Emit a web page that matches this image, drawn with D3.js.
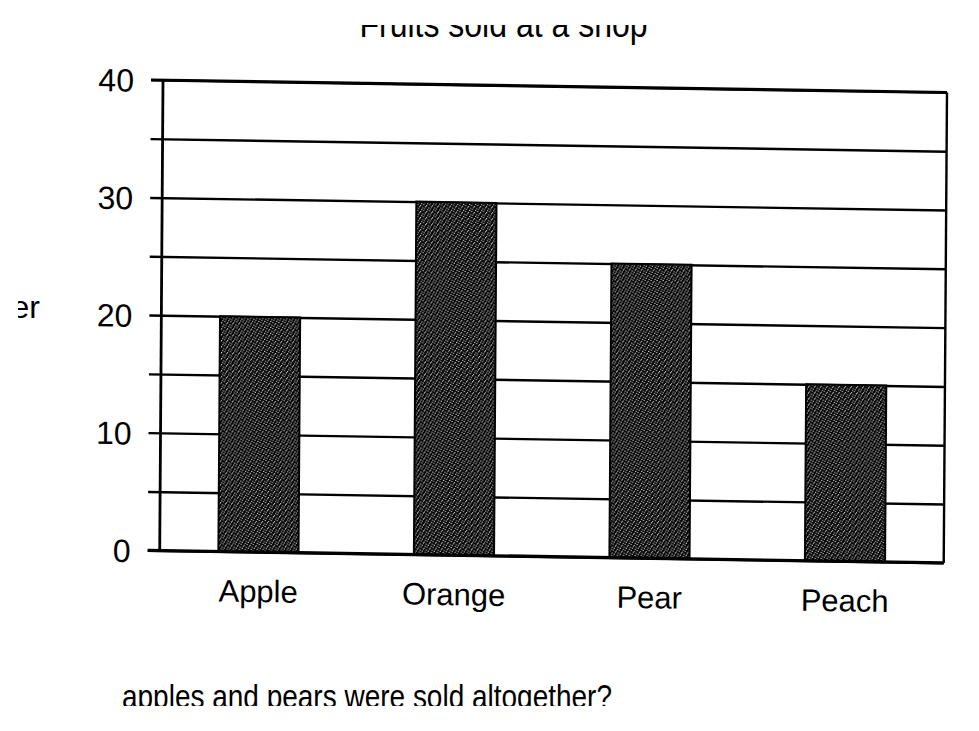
<!DOCTYPE html>
<html>
<head>
<meta charset="utf-8">
<script src="https://cdn.jsdelivr.net/npm/d3@7"></script>
<style>
  html, body { margin: 0; padding: 0; background: #fff; }
  svg { display: block; }
  text { font-family: "Liberation Sans", Arial, sans-serif; fill: #000; }
</style>
</head>
<body>
<svg id="chart" width="979" height="731"></svg>
<script>
// ---- data ----
const categories = ["Apple", "Orange", "Pear", "Peach"];
const values = [20, 30, 25, 15];
const yTickValues = [0, 5, 10, 15, 20, 25, 30, 35, 40];
const yLabelValues = [0, 10, 20, 30, 40];
const titleText = "Fruits sold at a shop";
const yTitleText = "Number";
const questionText = "apples and pears were sold altogether?";

// ---- layout ----
const W = 784, H = 470;
const svg = d3.select("#chart");
svg.append("rect").attr("width", 979).attr("height", 731).attr("fill", "#fff");

// stipple pattern for bars
const defs = svg.append("defs");
const pat = defs.append("pattern").attr("id", "stip")
  .attr("patternUnits", "userSpaceOnUse").attr("width", 6).attr("height", 6);
pat.append("rect").attr("width", 6).attr("height", 6).attr("fill", "#050505");
[[0,1],[3,0],[2,3],[5,2],[1,5],[4,4]].forEach(p => {
  pat.append("rect").attr("x", p[0]).attr("y", p[1]).attr("width", 1).attr("height", 1).attr("fill", "#ffffff");
});

// scanned page is slightly rotated/skewed
const g = svg.append("g").attr("transform", "matrix(1,0.0158,-0.007,1.001,163,80)");

const x = d3.scaleBand().domain(categories).range([0, W]).paddingInner(0.59).paddingOuter(0.3);
const y = d3.scaleLinear().domain([0, 40]).range([H, 0]);

// gridlines + ticks via axis
const yAxis = d3.axisLeft(y)
  .tickValues(yTickValues)
  .tickSizeInner(-W)
  .tickSizeOuter(0)
  .tickFormat(d => yLabelValues.includes(d) ? String(d) : "");
const ya = g.append("g").call(yAxis);
ya.select(".domain").remove();
ya.selectAll(".tick line")
  .attr("x1", -12).attr("x2", W)
  .attr("stroke", "#000").attr("stroke-width", 2.4);
ya.selectAll(".tick text")
  .attr("x", -29).attr("dy", "0.36em")
  .style("font-size", "32px")
  .style("font-family", "'Liberation Sans', Arial, sans-serif")
  .attr("fill", "#000");

// bars
g.selectAll(".bar").data(values).join("rect")
  .attr("class", "bar")
  .attr("x", (d, i) => x(categories[i]))
  .attr("y", d => y(d))
  .attr("width", x.bandwidth())
  .attr("height", d => y(0) - y(d))
  .attr("fill", "url(#stip)")
  .attr("stroke", "#000")
  .attr("stroke-width", 2);

// frame
g.append("line").attr("x1", 0).attr("x2", 0).attr("y1", y(40)).attr("y2", y(0))
  .attr("stroke", "#000").attr("stroke-width", 2.8);
g.append("line").attr("x1", -12).attr("x2", W).attr("y1", y(0)).attr("y2", y(0))
  .attr("stroke", "#000").attr("stroke-width", 3.2);
g.append("line").attr("x1", -12).attr("x2", W).attr("y1", y(40)).attr("y2", y(40))
  .attr("stroke", "#000").attr("stroke-width", 2.8);
g.append("line").attr("x1", W).attr("x2", W).attr("y1", y(40)).attr("y2", y(0))
  .attr("stroke", "#000").attr("stroke-width", 2.4);

// category labels
g.selectAll(".cat").data(categories).join("text")
  .attr("class", "cat")
  .attr("x", d => x(d) + x.bandwidth() / 2)
  .attr("y", H + 50)
  .attr("text-anchor", "middle")
  .style("font-size", "31px")
  .text(d => d);

// title (cut off at top by the scan)
svg.append("text").attr("transform", "translate(503.5,37) scale(1,1.15)")
  .attr("text-anchor", "middle").style("font-size", "32px").text(titleText);
svg.append("rect").attr("x", 0).attr("y", 0).attr("width", 979).attr("height", 25).attr("fill", "#fff");

// y axis title (cut off at left)
svg.append("text").attr("x", 40).attr("y", 318)
  .attr("text-anchor", "end").style("font-size", "32px").text(yTitleText);
svg.append("rect").attr("x", 0).attr("y", 285).attr("width", 18).attr("height", 45).attr("fill", "#fff");

// question text (cut off at bottom)
svg.append("text").attr("transform", "translate(122,708) scale(1,1.2)")
  .attr("text-anchor", "start").style("font-size", "28px").text(questionText);
svg.append("rect").attr("x", 0).attr("y", 706).attr("width", 979).attr("height", 25).attr("fill", "#fff");
</script>
</body>
</html>
